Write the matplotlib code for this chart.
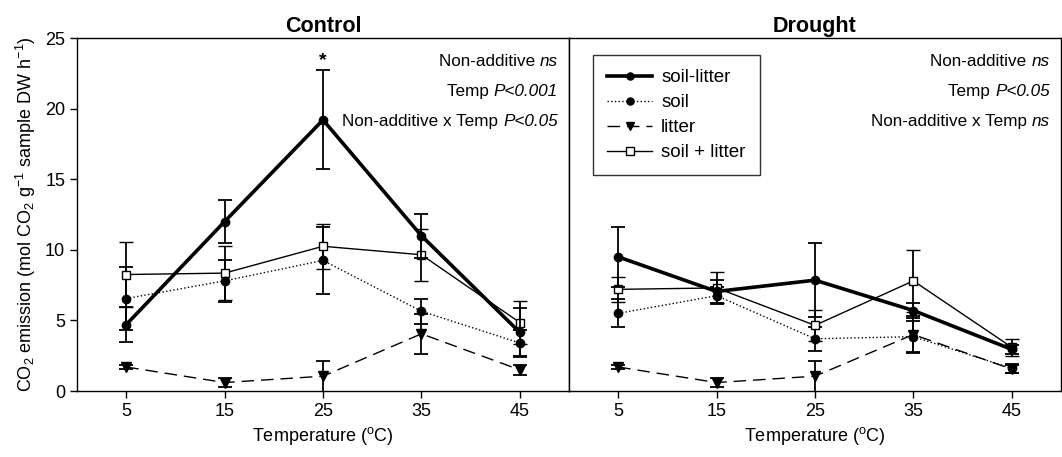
import numpy as np
import matplotlib.pyplot as plt

plt.rcParams['font.family'] = ['Liberation Sans', 'DejaVu Sans']
plt.rcParams['mathtext.default'] = 'regular'

# ---- data ----
temps = [5, 15, 25, 35, 45]

# Control
soil_litter_c = [4.7, 12.0, 19.2, 11.0, 4.15]
soil_litter_c_err = [1.25, 1.55, 3.5, 1.55, 1.75]
soil_c = [6.55, 7.8, 9.25, 5.65, 3.4]
soil_c_err = [2.25, 1.5, 2.35, 0.9, 0.9]
litter_c = [1.7, 0.6, 1.05, 4.05, 1.5]
litter_c_err = [0.15, 0.3, 1.1, 1.4, 0.35]
mix_c = [8.25, 8.35, 10.25, 9.65, 4.85]
mix_c_err = [2.3, 1.9, 1.6, 1.85, 1.55]

# Drought
soil_litter_d = [9.5, 7.05, 7.85, 5.7, 2.95]
soil_litter_d_err = [2.15, 0.8, 2.6, 0.5, 0.3]
soil_d = [5.5, 6.75, 3.7, 3.85, 1.6]
soil_d_err = [1.0, 0.6, 0.85, 1.1, 0.3]
litter_d = [1.7, 0.6, 1.05, 4.0, 1.55]
litter_d_err = [0.15, 0.3, 1.1, 1.3, 0.3]
mix_d = [7.2, 7.3, 4.65, 7.8, 3.1]
mix_d_err = [0.9, 1.1, 1.1, 2.2, 0.6]

# (plain part, italic part) for each stats line
stats_c = [("Non-additive ", "ns"), ("Temp ", "P<0.001"),
           ("Non-additive x Temp ", "P<0.05")]
stats_d = [("Non-additive ", "ns"), ("Temp ", "P<0.05"),
           ("Non-additive x Temp ", "ns")]


def draw_panel(ax, sl, sl_e, s, s_e, l, l_e, m, m_e):
    eb = dict(ecolor='black', elinewidth=1.3, capsize=5, capthick=1.3)
    ax.errorbar(temps, m, yerr=m_e, color='black', lw=1.0, marker='s',
                ms=6, mfc='white', mec='black', mew=1.0,
                label='soil + litter', zorder=3, **eb)
    ax.errorbar(temps, l, yerr=l_e, color='black', lw=1.0,
                dashes=(9, 5), marker='v', ms=6.5, mfc='black',
                label='litter', zorder=3, **eb)
    ax.errorbar(temps, s, yerr=s_e, color='black', lw=1.0, ls=':',
                marker='o', ms=6, mfc='black', label='soil', zorder=3, **eb)
    ax.errorbar(temps, sl, yerr=sl_e, color='black', lw=2.6, marker='o',
                ms=6, mfc='black', label='soil-litter', zorder=4, **eb)
    ax.set_xlim(0, 50)
    ax.set_ylim(0, 25)
    ax.set_xticks(temps)
    ax.set_yticks([0, 5, 10, 15, 20, 25])
    ax.tick_params(direction='out', length=5, width=1, labelsize=13,
                   colors='black')
    for sp in ax.spines.values():
        sp.set_linewidth(1.0)
    ax.set_xlabel("Temperature ($^{o}$C)", fontsize=13, labelpad=4)


fig = plt.figure(figsize=(10.62, 4.57), dpi=100)
ax1 = fig.add_axes([0.0725, 0.1444, 0.4633, 0.7724])
ax2 = fig.add_axes([0.5358, 0.1444, 0.4632, 0.7724])

draw_panel(ax1, soil_litter_c, soil_litter_c_err, soil_c, soil_c_err,
           litter_c, litter_c_err, mix_c, mix_c_err)
draw_panel(ax2, soil_litter_d, soil_litter_d_err, soil_d, soil_d_err,
           litter_d, litter_d_err, mix_d, mix_d_err)

ax1.set_ylabel("CO$_2$ emission (mol CO$_2$ g$^{-1}$ sample DW h$^{-1}$)",
               fontsize=13, labelpad=5)
ax2.tick_params(axis='y', left=False, labelleft=False)

ax1.set_title("Control", fontsize=15.5, fontweight='bold', pad=4)
ax2.set_title("Drought", fontsize=15.5, fontweight='bold', pad=4)

for ax, lines in ((ax1, stats_c), (ax2, stats_d)):
    for i, (plain, ital) in enumerate(lines):
        t = ax.text(0.977, 0.922 - i * 0.085, ital, transform=ax.transAxes,
                    ha='right', va='baseline', fontsize=12.3,
                    fontstyle='italic')
        ax.annotate(plain, xy=(0, 0), xycoords=t, ha='right',
                    va='bottom', fontsize=12.3)

ax1.text(25, 23.4, "*", ha='center', va='center', fontsize=14,
         fontweight='bold')

handles, labels = ax2.get_legend_handles_labels()
order = [3, 2, 1, 0]
leg = ax2.legend([handles[i][0] for i in order], [labels[i] for i in order],
                 loc='upper left', bbox_to_anchor=(0.049, 0.952),
                 borderaxespad=0, fontsize=13.5, frameon=True,
                 fancybox=False, edgecolor='black', handlelength=2.4,
                 handletextpad=0.48, labelspacing=0.42, borderpad=0.75,
                 markerscale=0.85)
leg.get_frame().set_linewidth(1.0)

fig.savefig("out.png", dpi=100)
